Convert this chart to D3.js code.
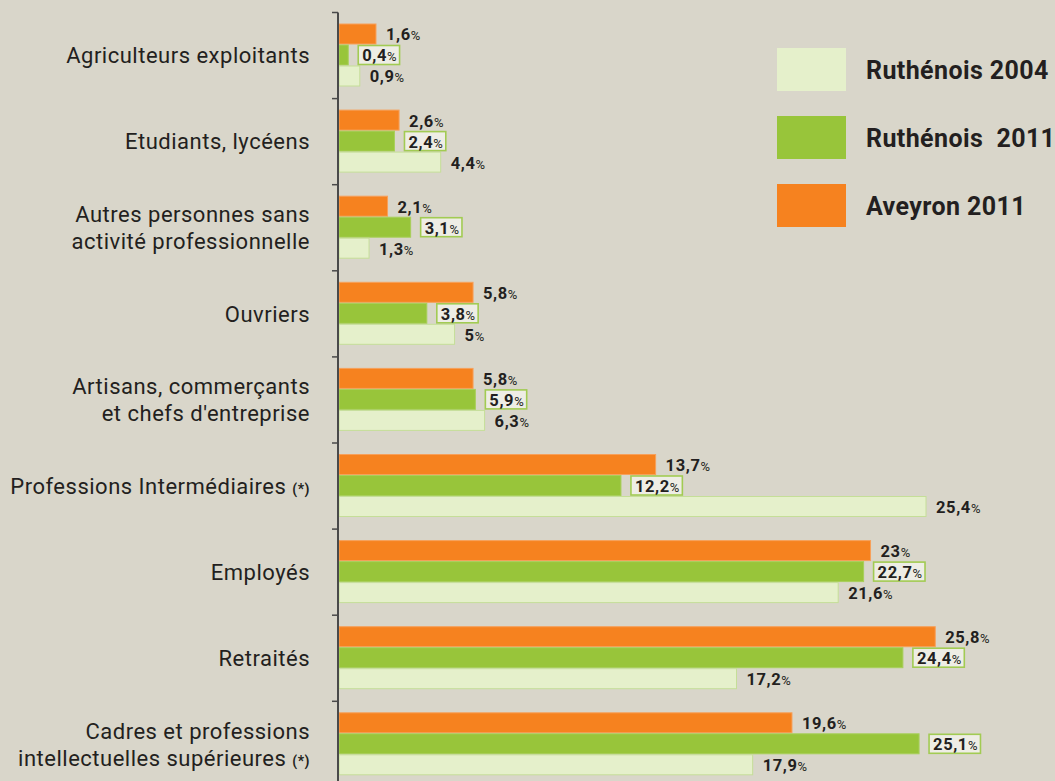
<!DOCTYPE html>
<html lang="fr">
<head>
<meta charset="utf-8">
<title>CSP</title>
<script src="https://cdn.jsdelivr.net/npm/d3@7"></script>
<style>
    body { margin: 0; background: #d9d6ca; }
    svg { display: block; }
    .cat { font-family: Roboto, sans-serif; font-size: 22px; letter-spacing: 0.5px; fill: #231f20; }
    .val { font-family: Roboto, sans-serif; font-weight: bold; font-size: 16.5px; letter-spacing: 0.6px; fill: #231f20; }
    .val .pct { font-size: 13px; font-weight: normal; letter-spacing: 0; }
    .leg { font-family: Roboto, sans-serif; font-weight: bold; font-size: 25px; letter-spacing: 0.4px; fill: #231f20; white-space: pre; }
</style>
</head>
<body>
<svg id="chart"></svg>
<script>
    // categories, top to bottom ; "|" = line break, "(*)" drawn smaller
    const categories = [
        "Agriculteurs exploitants",
        "Etudiants, lycéens",
        "Autres personnes sans|activité professionnelle",
        "Ouvriers",
        "Artisans, commerçants|et chefs d'entreprise",
        "Professions Intermédiaires (*)",
        "Employés",
        "Retraités",
        "Cadres et professions|intellectuelles supérieures (*)"
    ];
    const aveyron2011 = [1.6, 2.6, 2.1, 5.8, 5.8, 13.7, 23, 25.8, 19.6];
    const ruthenois2011 = [0.4, 2.4, 3.1, 3.8, 5.9, 12.2, 22.7, 24.4, 25.1];
    const ruthenois2004 = [0.9, 4.4, 1.3, 5, 6.3, 25.4, 21.6, 17.2, 17.9];
    const seriesNames = ["Aveyron 2011", "Ruthénois  2011", "Ruthénois 2004"];
    const legendOrder = ["Ruthénois 2004", "Ruthénois  2011", "Aveyron 2011"];

    const W = 1055, H = 781;
    const svg = d3.select("#chart").attr("width", W).attr("height", H);

    const colors = {
        "Aveyron 2011": "#f6821f",
        "Ruthénois  2011": "#98c53a",
        "Ruthénois 2004": "#e5f0cb"
    };
    const strokes = {
        "Aveyron 2011": "#f7a05a",
        "Ruthénois  2011": "#a8cf5a",
        "Ruthénois 2004": "#c5de98"
    };

    const x0 = 339;
    const x = d3.scaleLinear().domain([0, 25.4]).range([x0, 926]);
    const y = d3.scaleBand().domain(categories).range([12.5, 12.5 + 9 * 86.1]);
    const ySub = d3.scaleBand().domain(seriesNames).range([11.5, 74.5]);

    const data = categories.map((c, i) => ({
        cat: c,
        vals: [
            {s: seriesNames[0], v: aveyron2011[i]},
            {s: seriesNames[1], v: ruthenois2011[i]},
            {s: seriesNames[2], v: ruthenois2004[i]}
        ]
    }));

    const fmt = v => String(v).replace(".", ",");

    const g = svg.selectAll(".grp").data(data).enter().append("g")
        .attr("class", "grp")
        .attr("transform", d => "translate(0," + y(d.cat) + ")");

    g.selectAll("rect").data(d => d.vals).enter().append("rect")
        .attr("x", x0)
        .attr("y", d => ySub(d.s))
        .attr("width", d => x(d.v) - x0)
        .attr("height", ySub.bandwidth() - 1)
        .attr("fill", d => colors[d.s])
        .attr("stroke", d => strokes[d.s])
        .attr("stroke-width", 1);

    // value labels
    g.each(function(d) {
        const grp = d3.select(this);
        d.vals.forEach((e, k) => {
            const cy = ySub(e.s) + ySub.bandwidth() / 2;
            const boxed = k === 1;
            const tx = x(e.v) + (boxed ? 14 : 10);
            const t = grp.append("text").attr("class", "val")
                .attr("x", tx).attr("y", cy).attr("dy", "0.36em");
            t.append("tspan").text(fmt(e.v));
            t.append("tspan").attr("class", "pct").text("%");
            if (boxed) {
                const bb = t.node().getBBox();
                grp.insert("rect", "text")
                    .attr("x", bb.x - 4).attr("y", ySub(e.s) + 0.5)
                    .attr("width", bb.width + 7).attr("height", ySub.bandwidth() - 2)
                    .attr("fill", "#eeede5")
                    .attr("stroke", "#a2cb53")
                    .attr("stroke-width", 1.6);
            }
        });
    });

    // category labels
    g.each(function(d) {
        const lines = d.cat.split("|");
        const mid = 86.1 / 2;
        const lh = 27;
        lines.forEach((ln, j) => {
            const t = d3.select(this).append("text").attr("class", "cat")
                .attr("x", 310).attr("text-anchor", "end")
                .attr("y", mid + (j - (lines.length - 1) / 2) * lh).attr("dy", "0.35em");
            if (ln.endsWith("(*)")) {
                t.append("tspan").text(ln.slice(0, -3));
                t.append("tspan").attr("font-size", 14).attr("font-weight", "bold").text("(*)");
            } else {
                t.text(ln);
            }
        });
    });

    // axis with ticks at band boundaries
    const bounds = categories.map(c => y(c));
    svg.append("line").attr("x1", 338).attr("x2", 338)
        .attr("y1", 12.5).attr("y2", H)
        .attr("stroke", "#4a4a4a").attr("stroke-width", 2);
    svg.selectAll(".tick").data(bounds).enter().append("line")
        .attr("x1", 332).attr("x2", 338)
        .attr("y1", d => d).attr("y2", d => d)
        .attr("stroke", "#4a4a4a").attr("stroke-width", 1.5);

    // legend
    const lg = svg.append("g");
    legendOrder.forEach((s, i) => {
        lg.append("rect").attr("x", 777).attr("y", 48 + i * 68)
            .attr("width", 69).attr("height", 43).attr("fill", colors[s]);
        lg.append("text").attr("class", "leg").attr("x", 866).attr("y", 70 + i * 68)
            .attr("dy", "0.36em").text(s);
    });
</script>
</body>
</html>
